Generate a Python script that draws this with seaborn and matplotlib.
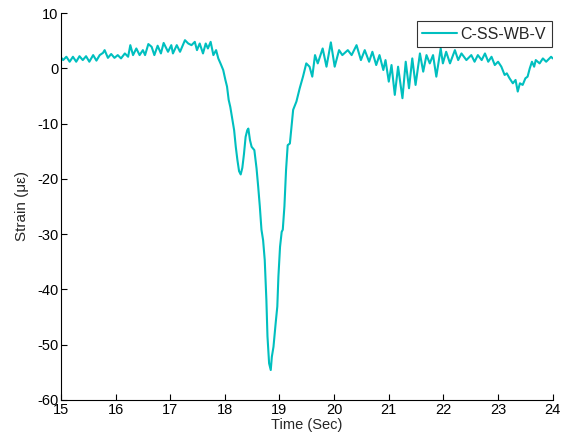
import numpy as np
import pandas as pd
import matplotlib
matplotlib.use("Agg")
import matplotlib.pyplot as plt
import seaborn as sns

# Sample times (s) and measured strain (microstrain)
time_s = [
    15.00, 15.04, 15.10, 15.16, 15.22, 15.28, 15.34, 15.40, 15.46, 15.52,
    15.59, 15.65, 15.71, 15.77, 15.80, 15.86, 15.92, 15.98, 16.04, 16.10,
    16.17, 16.23, 16.27, 16.32, 16.38, 16.44, 16.50, 16.54, 16.60, 16.66,
    16.71, 16.77, 16.83, 16.88, 16.96, 17.02, 17.05, 17.12, 17.18, 17.27,
    17.33, 17.39, 17.45, 17.49, 17.54, 17.60, 17.65, 17.69, 17.74, 17.79,
    17.84, 17.88, 17.92, 17.97, 18.01, 18.04, 18.07, 18.10, 18.14, 18.17,
    18.20, 18.23, 18.26, 18.29, 18.32, 18.35, 18.38, 18.41, 18.43, 18.46,
    18.49, 18.54, 18.58, 18.61, 18.64, 18.67, 18.70, 18.73, 18.76, 18.78,
    18.81, 18.84, 18.86, 18.89, 18.93, 18.96, 18.98, 19.01, 19.04, 19.06,
    19.09, 19.12, 19.15, 19.19, 19.22, 19.25, 19.31, 19.37, 19.43, 19.49,
    19.55, 19.60, 19.65, 19.70, 19.79, 19.86, 19.94, 20.01, 20.09, 20.15,
    20.25, 20.32, 20.41, 20.49, 20.56, 20.64, 20.70, 20.77, 20.83, 20.90,
    20.94, 21.00, 21.05, 21.11, 21.17, 21.25, 21.31, 21.37, 21.43, 21.49,
    21.57, 21.63, 21.69, 21.75, 21.81, 21.87, 21.95, 21.99, 22.05, 22.12,
    22.21, 22.27, 22.33, 22.42, 22.51, 22.57, 22.63, 22.70, 22.76, 22.82,
    22.88, 22.94, 23.00, 23.06, 23.12, 23.16, 23.21, 23.27, 23.32, 23.36,
    23.40, 23.45, 23.50, 23.54, 23.58, 23.62, 23.66, 23.69, 23.76, 23.82,
    23.88, 23.97, 24.00,
]
strain_ue = [
    2.0, 1.5, 2.1, 1.2, 2.1, 1.2, 2.2, 1.5, 2.2, 1.2,
    2.4, 1.4, 2.4, 2.8, 3.3, 1.9, 2.6, 1.9, 2.4, 1.8,
    2.7, 2.1, 4.2, 2.4, 3.6, 2.4, 3.3, 2.4, 4.4, 3.9,
    2.4, 4.1, 2.7, 4.6, 3.0, 4.2, 2.7, 4.2, 3.0, 5.1,
    4.5, 4.2, 4.8, 3.3, 4.5, 2.7, 4.5, 3.6, 4.8, 2.4,
    3.3, 1.8, 0.9, -0.3, -2.1, -3.3, -5.7, -7.0, -9.4, -11.2,
    -14.2, -16.6, -18.6, -19.2, -18.0, -15.5, -12.4, -11.2, -10.9, -13.0,
    -14.2, -14.8, -18.1, -21.4, -25.0, -29.2, -31.1, -34.7, -41.9, -48.5,
    -53.4, -54.6, -52.2, -50.4, -46.1, -43.1, -37.7, -32.3, -29.6, -29.2,
    -25.0, -18.4, -13.9, -13.6, -10.6, -7.5, -6.0, -3.6, -1.5, 0.9,
    0.3, -1.5, 2.4, 0.9, 3.6, 0.3, 4.7, 0.3, 3.3, 2.4,
    3.3, 2.4, 4.2, 1.5, 3.3, 1.2, 3.0, 0.6, 2.4, -0.3,
    1.5, -2.4, 0.6, -4.8, 0.3, -5.4, 1.2, -3.6, 1.8, -3.0,
    2.7, -0.6, 2.4, 0.9, 2.4, -1.5, 3.6, 0.9, 3.0, 0.9,
    3.3, 1.5, 2.7, 1.5, 2.4, 1.2, 2.4, 1.5, 2.7, 1.2,
    2.1, 0.6, 1.2, 0.3, -1.2, -0.9, -1.8, -2.7, -2.1, -4.2,
    -2.7, -3.0, -1.8, -1.5, 0.0, 1.2, 0.3, 1.5, 0.9, 1.8,
    1.2, 2.1, 1.8,
]
series_name = "C-SS-WB-V"
x_ticks = [15, 16, 17, 18, 19, 20, 21, 22, 23, 24]
y_ticks = [-60, -50, -40, -30, -20, -10, 0, 10]

sns.set_theme(style="ticks")
plt.rcParams["font.family"] = ["Liberation Sans", "DejaVu Sans"]
plt.rcParams["axes.unicode_minus"] = False

df = pd.DataFrame({"Time": time_s, "Strain": strain_ue})

fig = plt.figure(figsize=(5.64, 4.37), dpi=100)
ax = fig.add_axes([0.108, 0.085, 0.872, 0.885])

sns.lineplot(data=df, x="Time", y="Strain", ax=ax, color="#00BFBF",
             linewidth=1.5, label=series_name, estimator=None, sort=False)

ax.set_xlim(15, 24)
ax.set_ylim(-60, 10)
ax.set_xticks(x_ticks)
ax.set_yticks(y_ticks)
ax.tick_params(direction="in", length=4, width=0.8, labelsize=10.5,
               colors="black", pad=2)
for side in ("top", "right"):
    ax.spines[side].set_visible(False)
for side in ("left", "bottom"):
    ax.spines[side].set_color("black")
    ax.spines[side].set_linewidth(0.8)

ax.set_xlabel("Time (Sec)", fontsize=10.5, labelpad=1)
ax.set_ylabel("Strain (\u03bc\u03b5)", fontsize=11, labelpad=6)

leg = ax.legend(loc="upper right", fontsize=11.5, frameon=True, fancybox=False,
                edgecolor="black", borderpad=0.35, handlelength=2.2,
                handletextpad=0.2, borderaxespad=0.0,
                bbox_to_anchor=(0.998, 0.979))
leg.get_frame().set_linewidth(0.8)

fig.savefig("out.png", dpi=100)
